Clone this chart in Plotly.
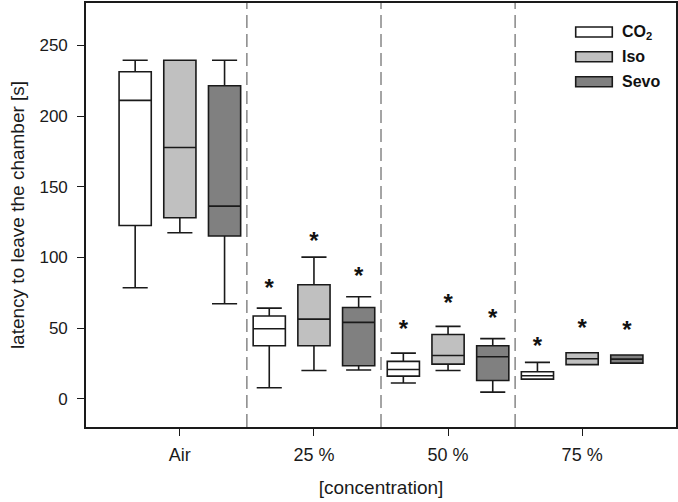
import plotly.graph_objects as go

groups = ["Air", "25 %", "50 %", "75 %"]
series = ["CO<sub>2</sub>", "Iso", "Sevo"]
fills = ["#ffffff", "#c0c0c0", "#808080"]

co2_q1 = [122.6, 37.5, 16.0, 13.9]
co2_med = [211.1, 49.5, 20.7, 16.3]
co2_q3 = [231.4, 58.5, 26.4, 19.1]
co2_lo = [78.5, 7.8, 11.1, 13.9]
co2_hi = [239.5, 64.1, 32.3, 25.7]

iso_q1 = [128.1, 37.5, 24.5, 24.1]
iso_med = [177.8, 56.3, 30.6, 28.3]
iso_q3 = [239.5, 80.7, 45.5, 32.5]
iso_lo = [117.4, 20.0, 20.0, 24.1]
iso_hi = [239.5, 100.2, 51.2, 32.5]

sevo_q1 = [115.1, 23.3, 12.9, 25.2]
sevo_med = [136.3, 54.0, 29.7, 28.0]
sevo_q3 = [221.5, 64.6, 37.5, 30.9]
sevo_lo = [67.2, 20.3, 4.7, 25.2]
sevo_hi = [239.5, 72.2, 42.5, 30.9]

# significance asterisk positions (glyph centres), None = no marker
co2_star = [None, 76.6, 47.6, 35.8]
iso_star = [None, 110.0, 66.0, 48.8]
sevo_star = [None, 85.6, 55.9, 47.1]

stats = [
    (co2_q1, co2_med, co2_q3, co2_lo, co2_hi, co2_star),
    (iso_q1, iso_med, iso_q3, iso_lo, iso_hi, iso_star),
    (sevo_q1, sevo_med, sevo_q3, sevo_lo, sevo_hi, sevo_star),
]
offsets = [-1 / 3, 0.0, 1 / 3]

FONT = "Liberation Sans, Arial, sans-serif"
fig = go.Figure()

for i, (q1, med, q3, lo, hi, star) in enumerate(stats):
    xs = [g + offsets[i] for g in range(len(groups))]
    fig.add_trace(go.Box(
        x=xs, q1=q1, median=med, q3=q3, lowerfence=lo, upperfence=hi,
        width=0.24, whiskerwidth=0.78, fillcolor=fills[i],
        line=dict(color="#1a1a1a", width=1.6), boxpoints=False,
        hoverinfo="skip", showlegend=False, name=series[i],
    ))
    sx = [x for x, s in zip(xs, star) if s is not None]
    sy = [s for s in star if s is not None]
    fig.add_trace(go.Scatter(
        x=sx, y=sy, mode="text", text=["<b>*</b>"] * len(sx),
        textposition="middle center",
        textfont=dict(family=FONT, size=24, color="#111"),
        hoverinfo="skip", showlegend=False,
    ))

# dashed separators between groups
for k in range(len(groups) - 1):
    fig.add_shape(type="line", xref="x", yref="paper", x0=k + 0.5, x1=k + 0.5,
                  y0=0, y1=1, line=dict(color="#4a4a4a", width=1, dash="13px,6px"))

# custom legend
leg_y = [0.9316, 0.8733, 0.8144]
for i, name in enumerate(series):
    fig.add_shape(type="rect", xref="paper", yref="paper",
                  x0=0.830, x1=0.892, y0=leg_y[i] - 0.0118, y1=leg_y[i] + 0.0118,
                  fillcolor=fills[i], line=dict(color="#1a1a1a", width=1.6))
    fig.add_annotation(xref="paper", yref="paper", x=0.905, y=leg_y[i],
                       xanchor="left", yanchor="middle", showarrow=False,
                       text="<b>" + name + "</b>",
                       font=dict(family=FONT, size=16, color="#111"))

fig.update_layout(
    width=678, height=502,
    margin=dict(l=86, r=2, t=3, b=75),
    paper_bgcolor="white", plot_bgcolor="white",
    font=dict(family=FONT, size=17, color="#1a1a1a"),
    showlegend=False,
)
fig.update_xaxes(
    range=[-0.7, 3.7], tickmode="array", tickvals=list(range(len(groups))),
    ticktext=groups, ticks="outside", ticklen=7, tickwidth=1.3, tickcolor="#1a1a1a",
    showgrid=False, zeroline=False, showline=True, linecolor="#1a1a1a",
    linewidth=1.6, mirror=True, automargin=False, ticklabelstandoff=4,
    tickfont=dict(size=18),
    title=dict(text="[concentration]", standoff=16, font=dict(size=19)),
)
fig.update_yaxes(
    range=[-20, 280], tickvals=[0, 50, 100, 150, 200, 250],
    ticks="outside", ticklen=7, tickwidth=1.3, tickcolor="#1a1a1a",
    showgrid=False, zeroline=False, showline=True, linecolor="#1a1a1a",
    linewidth=1.6, mirror=True, ticklabelstandoff=6, automargin=False,
    title=dict(text="latency to leave the chamber [s]", standoff=10, font=dict(size=19)),
)

fig.write_html("out.html", config={"displayModeBar": False},
               post_script="document.body.style.margin='0px';")
